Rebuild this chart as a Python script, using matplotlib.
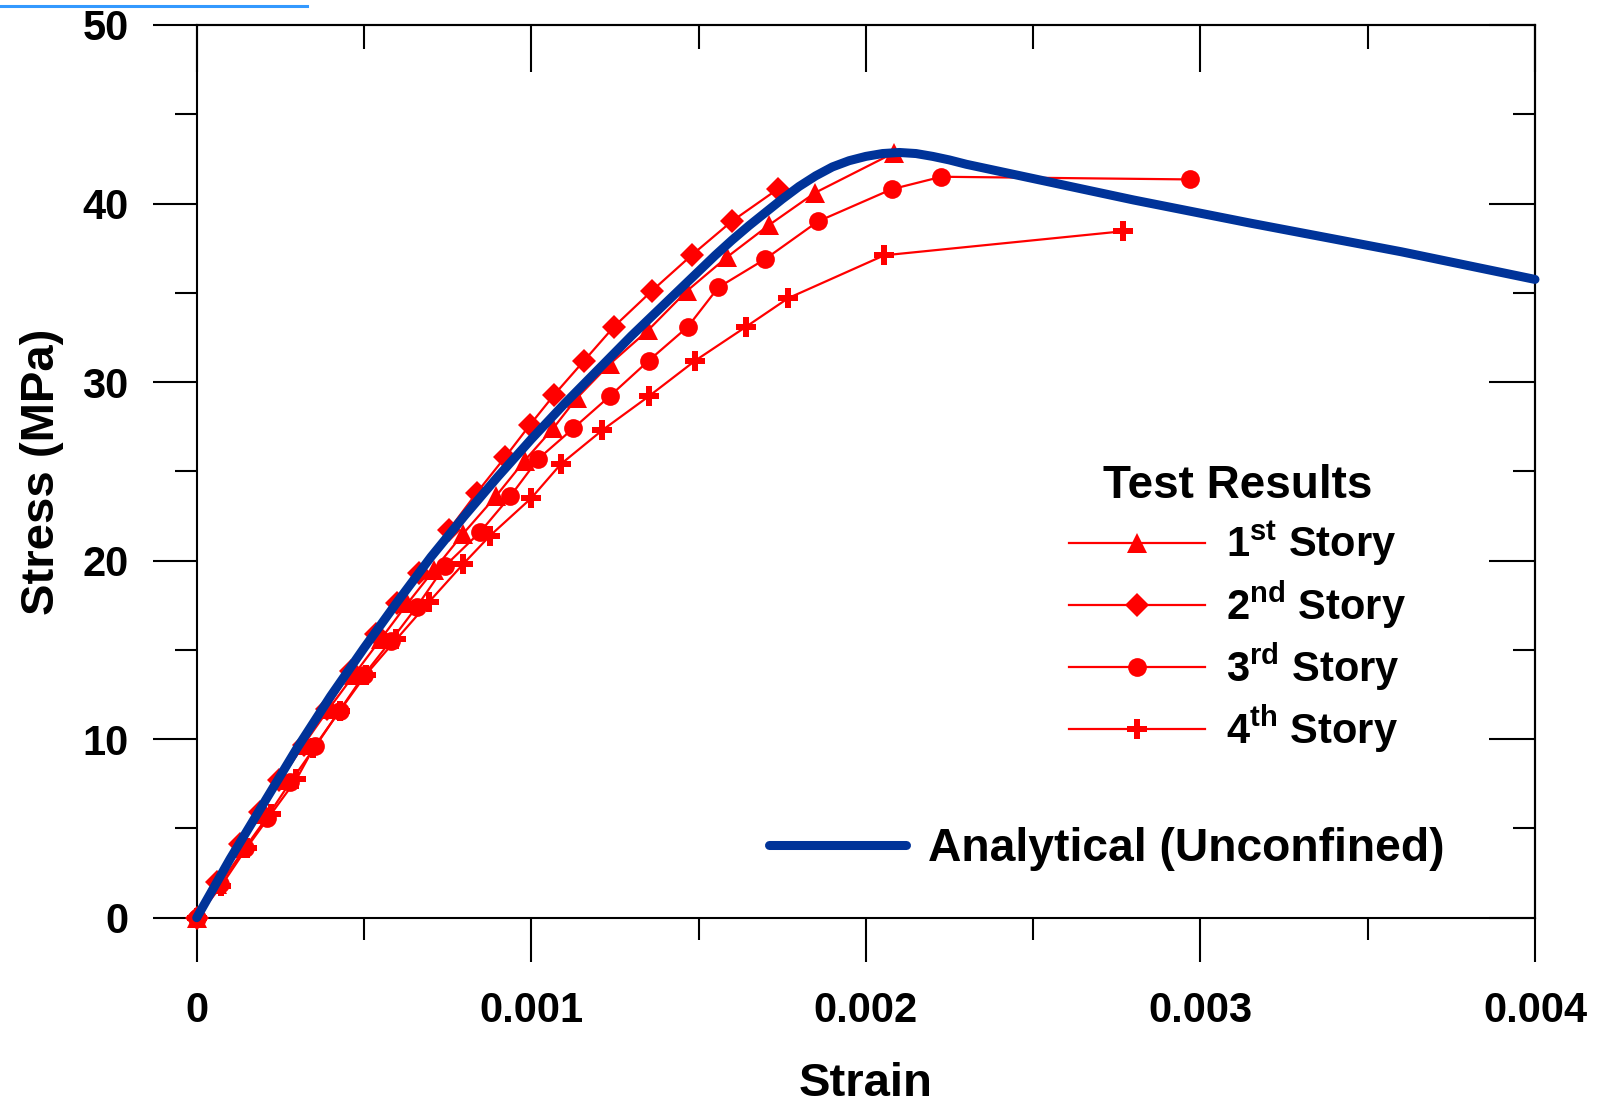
import matplotlib
matplotlib.use("Agg")
import matplotlib.pyplot as plt
from matplotlib.lines import Line2D
from matplotlib.ticker import MultipleLocator, FixedLocator
import numpy as np

plt.rcParams['font.family'] = ['Liberation Sans', 'DejaVu Sans']
plt.rcParams['font.weight'] = 'bold'
plt.rcParams['mathtext.fontset'] = 'custom'
plt.rcParams['mathtext.rm'] = 'Liberation Sans:bold'
plt.rcParams['mathtext.it'] = 'Liberation Sans:bold'
plt.rcParams['mathtext.bf'] = 'Liberation Sans:bold'
plt.rcParams['mathtext.default'] = 'rm'

# strain values in units of 1e-3, stress in MPa
story1_strain = [0, 0.06, 0.12, 0.185, 0.25, 0.32, 0.395, 0.47, 0.55, 0.63, 0.71, 0.796, 0.894, 0.98,
                 1.065, 1.136, 1.234, 1.349, 1.465, 1.585, 1.711, 1.848, 2.085]
story1_stress = [0, 1.9, 3.9, 5.8, 7.7, 9.7, 11.7, 13.6, 15.6, 17.6, 19.5, 21.5, 23.6, 25.6,
                 27.4, 29.1, 31.0, 32.9, 35.1, 37.0, 38.8, 40.6, 42.85]

story2_strain = [0, 0.060, 0.128, 0.189, 0.247, 0.320, 0.388, 0.461, 0.535, 0.599, 0.664, 0.753,
                 0.837, 0.922, 0.996, 1.069, 1.158, 1.247, 1.360, 1.479, 1.599, 1.736]
story2_stress = [0, 2.0, 4.1, 5.9, 7.7, 9.7, 11.7, 13.8, 15.9, 17.6, 19.3, 21.7,
                 23.8, 25.8, 27.6, 29.3, 31.2, 33.1, 35.1, 37.1, 39.0, 40.8]

story3_strain = [0, 0.07, 0.144, 0.209, 0.28, 0.355, 0.427, 0.50, 0.58, 0.657, 0.742, 0.847,
                 0.937, 1.021, 1.125, 1.234, 1.351, 1.468, 1.559, 1.700, 1.857, 2.077, 2.226, 2.970]
story3_stress = [0, 1.9, 3.9, 5.6, 7.6, 9.6, 11.6, 13.6, 15.5, 17.4, 19.7, 21.6,
                 23.6, 25.7, 27.4, 29.2, 31.2, 33.1, 35.3, 36.9, 39.0, 40.8, 41.5, 41.35]

story4_strain = [0, 0.072, 0.149, 0.222, 0.298, 0.349, 0.428, 0.505, 0.597, 0.695, 0.796, 0.877,
                 1.000, 1.088, 1.212, 1.351, 1.490, 1.642, 1.768, 2.055, 2.770]
story4_stress = [0, 1.75, 3.9, 5.8, 7.75, 9.5, 11.6, 13.6, 15.6, 17.7, 19.8, 21.4,
                 23.5, 25.4, 27.3, 29.2, 31.2, 33.1, 34.7, 37.1, 38.45]

analytical_strain = [0, 0.1, 0.2, 0.3, 0.4, 0.5, 0.6, 0.7, 0.8, 0.9, 1.0, 1.1, 1.2, 1.3, 1.4,
                     1.5, 1.55, 1.6, 1.65, 1.7, 1.75, 1.8, 1.85, 1.9, 1.95, 2.0, 2.05, 2.1,
                     2.15, 2.2, 2.25, 2.3, 2.4, 2.5, 2.8, 3.15, 3.6, 4.0]
analytical_stress = [0, 3.3, 6.4, 9.5, 12.4, 15.1, 17.7, 20.2, 22.5, 24.7, 26.8, 28.8, 30.7, 32.6, 34.4,
                     36.2, 37.1, 37.95, 38.75, 39.5, 40.25, 40.95, 41.55, 42.05, 42.4, 42.64, 42.8, 42.86,
                     42.8, 42.64, 42.44, 42.2, 41.8, 41.4, 40.2, 38.9, 37.3, 35.75]

story_labels = [r'1$^{st}$ Story', r'2$^{nd}$ Story', r'3$^{rd}$ Story', r'4$^{th}$ Story']
x_ticks = [0, 0.001, 0.002, 0.003, 0.004]
x_tick_labels = ['0', '0.001', '0.002', '0.003', '0.004']
y_ticks = [0, 10, 20, 30, 40, 50]

fig = plt.figure(figsize=(16.04, 11.04), dpi=100)
ax = fig.add_axes([0.12263, 0.16875, 0.83435, 0.80861])

red = '#FF0000'
series = [(story1_strain, story1_stress, '^', 15),
          (story2_strain, story2_stress, 'D', 12),
          (story3_strain, story3_stress, 'o', 13.5),
          (story4_strain, story4_stress, 'P', 14)]
handles = []
for (sx, sy, mk, ms), lab in zip(series, story_labels):
    h, = ax.plot(np.array(sx) * 1e-3, sy, color=red, lw=1.6, marker=mk, ms=ms,
                 mec=red, mfc=red, mew=0, clip_on=False, label=lab, zorder=3)
    handles.append(h)

blue, = ax.plot(np.array(analytical_strain) * 1e-3, analytical_stress, color='#003399', lw=6.5,
                solid_capstyle='round', solid_joinstyle='round', clip_on=False, zorder=4,
                label='Analytical (Unconfined)')

ax.set_xlim(0, 0.004)
ax.set_ylim(0, 50)

ax.xaxis.set_major_locator(FixedLocator(x_ticks))
ax.set_xticklabels(x_tick_labels)
ax.xaxis.set_minor_locator(MultipleLocator(0.0005))
ax.yaxis.set_major_locator(FixedLocator(y_ticks))
ax.yaxis.set_minor_locator(MultipleLocator(5))

for s in ax.spines.values():
    s.set_linewidth(1.5)

ax.tick_params(which='major', direction='out', length=32, width=1.5, labelsize=30)
ax.tick_params(which='minor', direction='out', length=16, width=1.5)
ax.tick_params(axis='x', which='major', pad=21)
ax.tick_params(axis='y', which='major', pad=17)

# inward ticks on top and right
secx = ax.secondary_xaxis('top')
secx.xaxis.set_major_locator(FixedLocator(x_ticks))
secx.xaxis.set_minor_locator(MultipleLocator(0.0005))
secx.tick_params(which='major', direction='in', length=34, width=1.5, labeltop=False)
secx.tick_params(which='minor', direction='in', length=17, width=1.5)
secx.spines['top'].set_linewidth(1.5)

secy = ax.secondary_yaxis('right')
secy.yaxis.set_major_locator(FixedLocator(y_ticks))
secy.yaxis.set_minor_locator(MultipleLocator(5))
secy.tick_params(which='major', direction='in', length=33, width=1.5, labelright=False)
secy.tick_params(which='minor', direction='in', length=16, width=1.5)
secy.spines['right'].set_linewidth(1.5)

ax.set_xlabel('Strain', fontsize=34, fontweight='bold', labelpad=22)
ax.set_ylabel('Stress (MPa)', fontsize=34, fontweight='bold', labelpad=13)

leg1 = ax.legend(handles=handles, loc='center left', bbox_to_anchor=(0.6518, 0.345),
                 frameon=False, fontsize=30, title='Test Results',
                 title_fontproperties={'size': 33, 'weight': 'bold'},
                 handlelength=3.26, handletextpad=0.5, labelspacing=0.26,
                 borderpad=0, borderaxespad=0, numpoints=1)
ax.add_artist(leg1)
ax.legend(handles=[blue], loc='center left', bbox_to_anchor=(0.4276, 0.0768),
          frameon=False, fontsize=33.3, handlelength=2.97, handletextpad=0.46,
          borderpad=0, borderaxespad=0)

fig.add_artist(Line2D([0, 307 / 1604], [1 - 5.7 / 1104] * 2, color='#3399FF', lw=2.2))

fig.savefig('out.png', dpi=100)
